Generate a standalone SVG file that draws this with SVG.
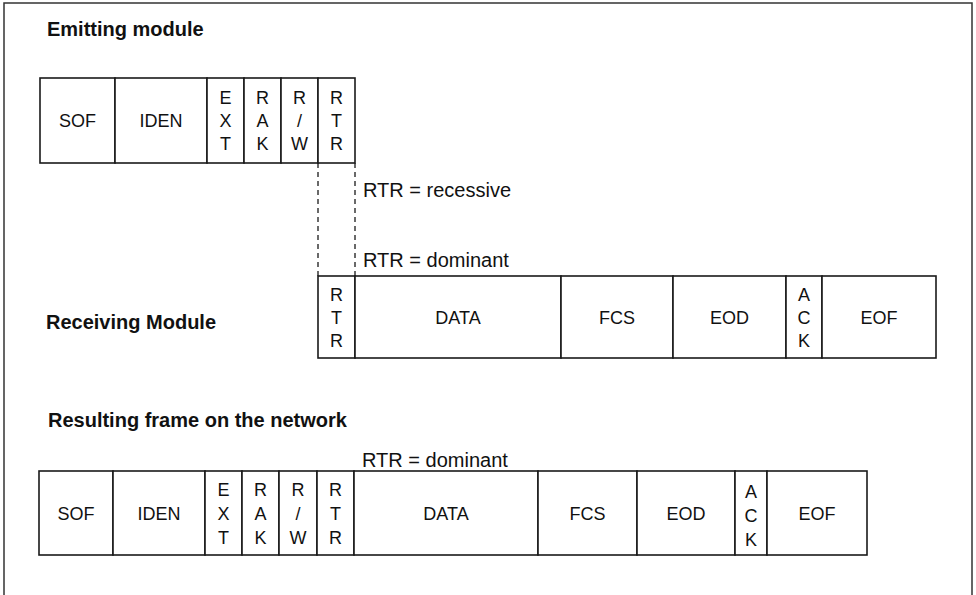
<svg xmlns="http://www.w3.org/2000/svg" width="976" height="595" viewBox="0 0 976 595">
<style>
.cell{fill:#fff;stroke:#1a1a1a;stroke-width:1.6}
.t{font-family:"Liberation Sans",Arial,sans-serif;font-size:18px;fill:#111;text-anchor:middle}
.h{font-family:"Liberation Sans",Arial,sans-serif;font-size:20px;font-weight:bold;fill:#111}
.l{font-family:"Liberation Sans",Arial,sans-serif;font-size:20px;fill:#111}
.dash{stroke:#1a1a1a;stroke-width:1.3;stroke-dasharray:5,4;fill:none}
</style>
<rect x="0" y="0" width="976" height="595" fill="#fff"/>
<rect x="4" y="3" width="968" height="620" fill="none" stroke="#333" stroke-width="1.5"/>

<text class="h" x="47" y="36">Emitting module</text>
<text class="h" x="46" y="329">Receiving Module</text>
<text class="h" x="48" y="427">Resulting frame on the network</text>

<g id="emit-frame">
  <g id="e-sof"><rect class="cell" x="40" y="78" width="75" height="85"/><text class="t" x="77.5" y="127">SOF</text></g>
  <g id="e-iden"><rect class="cell" x="115" y="78" width="92" height="85"/><text class="t" x="161" y="127">IDEN</text></g>
  <g id="e-ext"><rect class="cell" x="207" y="78" width="37" height="85"/><text class="t" x="225.5" y="104">E</text><text class="t" x="225.5" y="127">X</text><text class="t" x="225.5" y="150">T</text></g>
  <g id="e-rak"><rect class="cell" x="244" y="78" width="37" height="85"/><text class="t" x="262.5" y="104">R</text><text class="t" x="262.5" y="127">A</text><text class="t" x="262.5" y="150">K</text></g>
  <g id="e-rw"><rect class="cell" x="281" y="78" width="37" height="85"/><text class="t" x="299.5" y="104">R</text><text class="t" x="299.5" y="127">/</text><text class="t" x="299.5" y="150">W</text></g>
  <g id="e-rtr"><rect class="cell" x="318" y="78" width="37" height="85"/><text class="t" x="336.5" y="104">R</text><text class="t" x="336.5" y="127">T</text><text class="t" x="336.5" y="150">R</text></g>
</g>

<g id="connectors">
  <line class="dash" x1="318" y1="163" x2="318" y2="276"/>
  <line class="dash" x1="355" y1="163" x2="355" y2="276"/>
</g>

<text class="l" x="363" y="197">RTR = recessive</text>
<text class="l" x="363" y="267">RTR = dominant</text>

<g id="recv-frame">
  <g id="r-rtr"><rect class="cell" x="318" y="276" width="37" height="82"/><text class="t" x="336.5" y="301">R</text><text class="t" x="336.5" y="324">T</text><text class="t" x="336.5" y="347">R</text></g>
  <g id="r-data"><rect class="cell" x="355" y="276" width="206" height="82"/><text class="t" x="458" y="324">DATA</text></g>
  <g id="r-fcs"><rect class="cell" x="561" y="276" width="112" height="82"/><text class="t" x="617" y="324">FCS</text></g>
  <g id="r-eod"><rect class="cell" x="673" y="276" width="113" height="82"/><text class="t" x="729.5" y="324">EOD</text></g>
  <g id="r-ack"><rect class="cell" x="786" y="276" width="36" height="82"/><text class="t" x="804" y="301">A</text><text class="t" x="804" y="324">C</text><text class="t" x="804" y="347">K</text></g>
  <g id="r-eof"><rect class="cell" x="822" y="276" width="114" height="82"/><text class="t" x="879" y="324">EOF</text></g>
</g>

<text class="l" x="362" y="467">RTR = dominant</text>

<g id="net-frame">
  <g id="n-sof"><rect class="cell" x="39" y="471" width="74" height="84"/><text class="t" x="76" y="520">SOF</text></g>
  <g id="n-iden"><rect class="cell" x="113" y="471" width="92" height="84"/><text class="t" x="159" y="520">IDEN</text></g>
  <g id="n-ext"><rect class="cell" x="205" y="471" width="37" height="84"/><text class="t" x="223.5" y="496">E</text><text class="t" x="223.5" y="520">X</text><text class="t" x="223.5" y="544">T</text></g>
  <g id="n-rak"><rect class="cell" x="242" y="471" width="37" height="84"/><text class="t" x="260.5" y="496">R</text><text class="t" x="260.5" y="520">A</text><text class="t" x="260.5" y="544">K</text></g>
  <g id="n-rw"><rect class="cell" x="279" y="471" width="38" height="84"/><text class="t" x="298" y="496">R</text><text class="t" x="298" y="520">/</text><text class="t" x="298" y="544">W</text></g>
  <g id="n-rtr"><rect class="cell" x="317" y="471" width="37" height="84"/><text class="t" x="335.5" y="496">R</text><text class="t" x="335.5" y="520">T</text><text class="t" x="335.5" y="544">R</text></g>
  <g id="n-data"><rect class="cell" x="354" y="471" width="184" height="84"/><text class="t" x="446" y="520">DATA</text></g>
  <g id="n-fcs"><rect class="cell" x="538" y="471" width="99" height="84"/><text class="t" x="587.5" y="520">FCS</text></g>
  <g id="n-eod"><rect class="cell" x="637" y="471" width="98" height="84"/><text class="t" x="686" y="520">EOD</text></g>
  <g id="n-ack"><rect class="cell" x="735" y="471" width="32" height="84"/><text class="t" x="751" y="498">A</text><text class="t" x="751" y="522">C</text><text class="t" x="751" y="546">K</text></g>
  <g id="n-eof"><rect class="cell" x="767" y="471" width="100" height="84"/><text class="t" x="817" y="520">EOF</text></g>
</g>
</svg>
